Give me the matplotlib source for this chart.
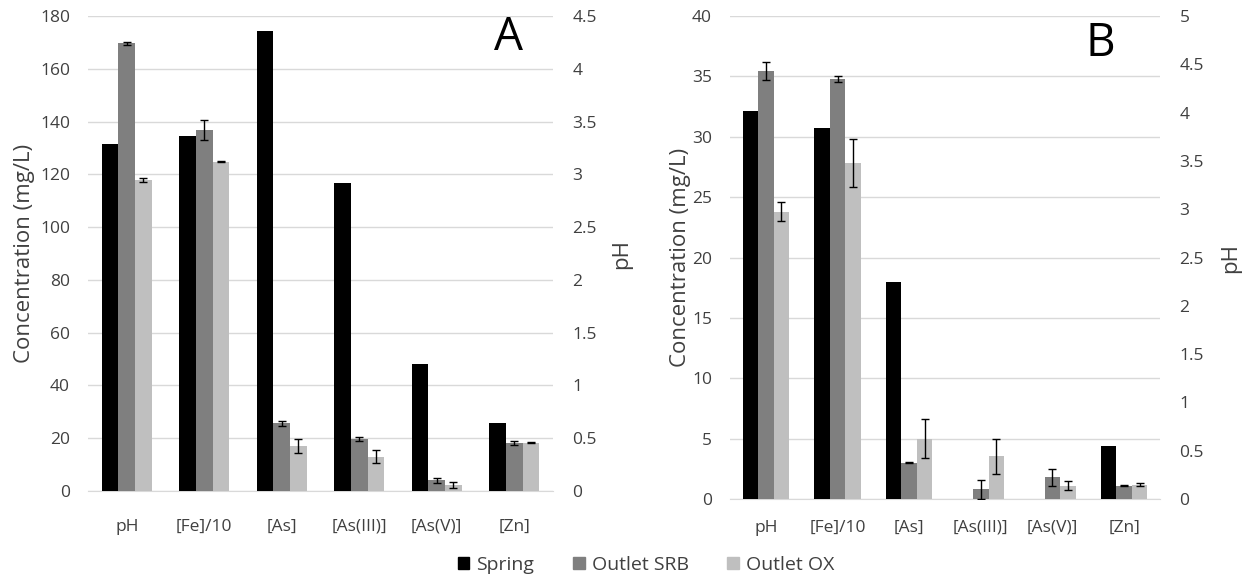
import numpy as np
import matplotlib
matplotlib.use("Agg")
from matplotlib import pyplot as plt
from matplotlib.patches import Patch

plt.rcParams['font.family'] = ['Open Sans', 'DejaVu Sans']

series = ["Spring", "Outlet SRB", "Outlet OX"]
colors = ["#000000", "#7f7f7f", "#bfbfbf"]
cats = ["pH", "[Fe]/10", "[As]", "[As(III)]", "[As(V)]", "[Zn]"]

# panel A : pH on right axis, concentrations (mg/L) on left axis
ph_A = [[3.29], [4.24], [2.95]]
ph_A_err = [[0], [0.01], [0.02]]
conc_A = [[134.6, 174.2, 116.8, 48.2, 25.8],
          [136.7, 25.7, 19.7, 4.0, 18.2],
          [124.8, 17.0, 13.0, 2.3, 18.3]]
conc_A_err = [[0, 0, 0, 0, 0],
              [3.8, 1.0, 0.9, 1.0, 0.6],
              [0.3, 2.7, 2.5, 1.2, 0.3]]

# panel B
ph_B = [[4.02], [4.43], [2.975]]
ph_B_err = [[0], [0.09], [0.095]]
conc_B = [[30.7, 18.0, 0.0, 0.0, 4.4],
          [34.77, 3.0, 0.8, 1.8, 1.1],
          [27.83, 5.0, 3.55, 1.1, 1.2]]
conc_B_err = [[0, 0, 0, 0, 0],
              [0.25, 0.05, 0.8, 0.7, 0.05],
              [2.0, 1.6, 1.45, 0.35, 0.1]]

grid_c = "#d9d9d9"
txt_c = "#404040"
w = 0.215


def panel(rect, ph, ph_err, conc, conc_err, cmax, cstep, phmax, letter, letter_xy, pad, lab_x, ph_lab_x):
    ax = fig.add_axes(rect)
    ax2 = ax.twinx()
    x = np.arange(1, 6)
    for i in range(3):
        off = (i - 1) * w
        ax.bar(x + off, conc[i], w, color=colors[i], zorder=3)
        ax2.bar([0 + off], ph[i], w, color=colors[i], zorder=3)
        errs = np.array(conc_err[i])
        m = errs > 0
        if m.any():
            ax.errorbar((x + off)[m], np.array(conc[i])[m], yerr=errs[m], fmt='none',
                        ecolor='black', elinewidth=1, capsize=3, capthick=1, zorder=4)
        if ph_err[i][0] > 0:
            ax2.errorbar([0 + off], ph[i], yerr=ph_err[i], fmt='none',
                         ecolor='black', elinewidth=1, capsize=3, capthick=1, zorder=4)
    ax.set_xlim(-0.5, 5.5)
    ax.set_ylim(0, cmax)
    ax2.set_ylim(0, phmax)
    ax.set_yticks(np.arange(0, cmax + 0.1, cstep))
    ph_ticks = np.arange(0, phmax + 0.01, 0.5)
    ax2.set_yticks(ph_ticks)
    ax2.set_yticklabels([f"{v:g}" for v in ph_ticks])
    ax.yaxis.grid(True, color=grid_c, linewidth=1, zorder=0)
    ax.set_axisbelow(True)
    for a in (ax, ax2):
        for s in a.spines.values():
            s.set_visible(False)
    ax.spines['bottom'].set_visible(True)
    ax.spines['bottom'].set_color(grid_c)
    ax.set_xticks(range(6))
    ax.set_xticklabels(cats)
    ax.tick_params(axis='x', length=0, pad=pad, labelsize=12.5, labelcolor=txt_c)
    ax.tick_params(axis='y', length=0, pad=13, labelsize=12.5, labelcolor=txt_c)
    ax2.tick_params(axis='y', length=0, pad=14, labelsize=12.5, labelcolor=txt_c)
    ax.set_ylabel("Concentration (mg/L)", fontsize=16, color=txt_c)
    ax.yaxis.set_label_coords(lab_x, 0.5)
    ax2.set_ylabel("pH", fontsize=16, color=txt_c, rotation=90)
    ax2.yaxis.set_label_coords(ph_lab_x, 0.5)
    fig.text(letter_xy[0], letter_xy[1], letter, fontsize=33, ha='center', va='center')
    return ax


fig = plt.figure(figsize=(12.52, 5.85), dpi=100)

panel([0.0703, 0.1607, 0.3714, 0.8119], ph_A, ph_A_err, conc_A, conc_A_err,
      180, 20, 4.5, "A", (0.4065, 0.935), 20, -0.115, 1.125)
panel([0.5831, 0.1470, 0.3434, 0.8256], ph_B, ph_B_err, conc_B, conc_B_err,
      40, 5, 5, "B", (0.879, 0.925), 15, -0.09, 1.14)

handles = [Patch(color=c) for c in colors]
fig.legend(handles, series, loc='center', bbox_to_anchor=(0.516, 0.034), ncol=3,
           frameon=False, fontsize=14, handlelength=0.6, handleheight=0.6,
           handletextpad=0.35, columnspacing=2.0, labelcolor=txt_c)

fig.savefig("out.png", dpi=100)
